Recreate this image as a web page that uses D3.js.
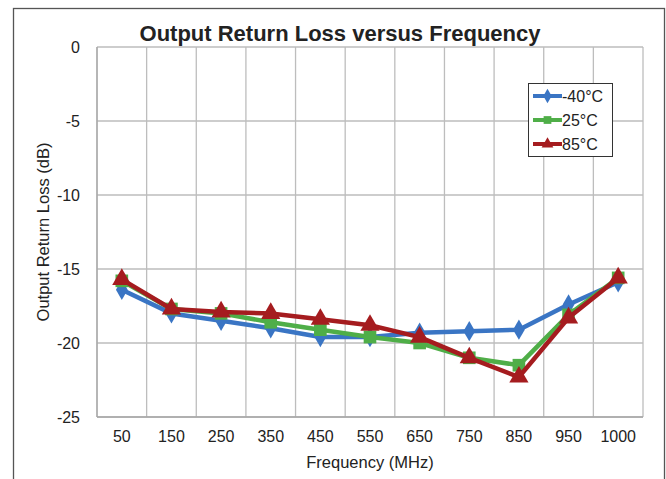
<!DOCTYPE html>
<html>
  <head>
    <meta charset="utf-8">
    <title>Output Return Loss versus Frequency</title>
    <style type="text/css">
        html, body{
            padding: 0px;
            margin: 0px;
            background: #fff;
            font-family: "Liberation Sans", Arial, sans-serif;
        }
    </style>
  </head>
  <body>
    <div id="vis"></div>
    <script src="https://cdnjs.cloudflare.com/ajax/libs/d3/7.8.5/d3.min.js"></script>
    <script type="text/javascript">

        // data
        var freqs = ["50", "150", "250", "350", "450", "550", "650", "750", "850", "950", "1000"];
        var lossM40 = [-16.4, -18.0, -18.5, -19.0, -19.6, -19.6, -19.3, -19.2, -19.1, -17.4, -15.9];
        var loss25 = [-15.8, -17.7, -18.0, -18.6, -19.1, -19.6, -20.0, -21.0, -21.5, -18.1, -15.6];
        var loss85 = [-15.7, -17.7, -17.9, -18.0, -18.4, -18.8, -19.6, -21.0, -22.3, -18.3, -15.6];
        var yTicks = [0, -5, -10, -15, -20, -25];

        var series = [
            {name: "-40\u00B0C", values: lossM40, color: "#3a75c4", marker: "diamond"},
            {name: "25\u00B0C", values: loss25, color: "#4fae48", marker: "square"},
            {name: "85\u00B0C", values: loss85, color: "#a51c1f", marker: "triangle"}
        ];

        var width = 666, height = 479;
        var plot = {left: 97, right: 643, top: 47, bottom: 417};

        var svg = d3.select("#vis").append("svg")
            .attr("width", width)
            .attr("height", height);

        // outer frame
        svg.append("rect")
            .attr("x", 13.5).attr("y", 8.5)
            .attr("width", 651).attr("height", 480)
            .attr("fill", "none")
            .attr("stroke", "#555")
            .attr("stroke-width", 1.3);

        var x = d3.scaleBand()
            .domain(freqs)
            .range([plot.left, plot.right]);

        var y = d3.scaleLinear()
            .domain([-25, 0])
            .range([plot.bottom, plot.top]);

        // gridlines
        var grid = svg.append("g");
        grid.selectAll("line.v")
            .data(freqs.concat(["end"]))
            .enter().append("line")
            .attr("x1", function(d, i){ return plot.left + i * x.bandwidth(); })
            .attr("x2", function(d, i){ return plot.left + i * x.bandwidth(); })
            .attr("y1", plot.top).attr("y2", plot.bottom)
            .attr("stroke", "#bdbdbd").attr("stroke-width", 1.3);
        grid.selectAll("line.h")
            .data(yTicks)
            .enter().append("line")
            .attr("x1", plot.left).attr("x2", plot.right)
            .attr("y1", function(d){ return y(d); })
            .attr("y2", function(d){ return y(d); })
            .attr("stroke", "#bdbdbd").attr("stroke-width", 1.3);

        // axis lines
        svg.append("line")
            .attr("x1", plot.left).attr("x2", plot.left)
            .attr("y1", plot.top).attr("y2", plot.bottom)
            .attr("stroke", "#a6a6a6").attr("stroke-width", 1.3);
        svg.append("line")
            .attr("x1", plot.left).attr("x2", plot.right)
            .attr("y1", plot.bottom).attr("y2", plot.bottom)
            .attr("stroke", "#a6a6a6").attr("stroke-width", 1.3);

        // axes labels via d3 axes (plain hyphen for minus, like the original)
        var yAxis = svg.append("g")
            .attr("transform", "translate(" + plot.left + ",0)")
            .call(d3.axisLeft(y).tickValues(yTicks).tickSize(0).tickPadding(17).tickFormat(String));
        yAxis.select(".domain").remove();
        yAxis.selectAll("text")
            .attr("font-size", 16).attr("fill", "#222")
            .attr("font-family", "Liberation Sans, Arial, sans-serif");

        var xAxis = svg.append("g")
            .attr("transform", "translate(0," + plot.bottom + ")")
            .call(d3.axisBottom(x).tickSize(0).tickPadding(14));
        xAxis.select(".domain").remove();
        xAxis.selectAll("text")
            .attr("font-size", 16).attr("fill", "#222")
            .attr("font-family", "Liberation Sans, Arial, sans-serif");

        // titles
        svg.append("text")
            .attr("x", 340).attr("y", 41)
            .attr("text-anchor", "middle")
            .attr("font-size", 22).attr("font-weight", "bold")
            .attr("fill", "#222")
            .text("Output Return Loss versus Frequency");

        svg.append("text")
            .attr("x", 370).attr("y", 468)
            .attr("text-anchor", "middle")
            .attr("font-size", 16.5).attr("fill", "#222")
            .text("Frequency (MHz)");

        svg.append("text")
            .attr("transform", "translate(49," + ((plot.top + plot.bottom) / 2) + ") rotate(-90)")
            .attr("text-anchor", "middle")
            .attr("font-size", 16.5).attr("fill", "#222")
            .text("Output Return Loss (dB)");

        var symbolFor = {
            diamond: d3.symbol().type(d3.symbolDiamond).size(120),
            square: d3.symbol().type(d3.symbolSquare).size(160),
            triangle: d3.symbol().type(d3.symbolTriangle).size(160)
        };

        var line = d3.line()
            .x(function(d, i){ return x(freqs[i]) + x.bandwidth() / 2; })
            .y(function(d){ return y(d); });

        series.forEach(function(s){
            var g = svg.append("g");
            g.append("path")
                .attr("d", line(s.values))
                .attr("fill", "none")
                .attr("stroke", s.color)
                .attr("stroke-width", 4.5)
                .attr("stroke-linejoin", "round");
            g.selectAll("path.m")
                .data(s.values)
                .enter().append("path")
                .attr("transform", function(d, i){
                    return "translate(" + (x(freqs[i]) + x.bandwidth() / 2) + "," + y(d) + ")";
                })
                .attr("d", symbolFor[s.marker])
                .attr("fill", s.color);
        });

        // legend
        var legend = svg.append("g").attr("transform", "translate(528,83)");
        legend.append("rect")
            .attr("x", 0.5).attr("y", 0.5)
            .attr("width", 84).attr("height", 73)
            .attr("fill", "#fff")
            .attr("stroke", "#333").attr("stroke-width", 1);
        series.forEach(function(s, i){
            var ly = 13 + i * 24;
            legend.append("line")
                .attr("x1", 5).attr("x2", 34)
                .attr("y1", ly).attr("y2", ly)
                .attr("stroke", s.color).attr("stroke-width", 4);
            var sym = d3.symbol().type(
                s.marker == "diamond" ? d3.symbolDiamond :
                s.marker == "square" ? d3.symbolSquare : d3.symbolTriangle).size(60);
            legend.append("path")
                .attr("transform", "translate(19.5," + ly + ")")
                .attr("d", sym)
                .attr("fill", s.color);
            legend.append("text")
                .attr("x", 34).attr("y", ly + 6)
                .attr("font-size", 16).attr("fill", "#222")
                .text(s.name);
        });

    </script>
  </body>
</html>
